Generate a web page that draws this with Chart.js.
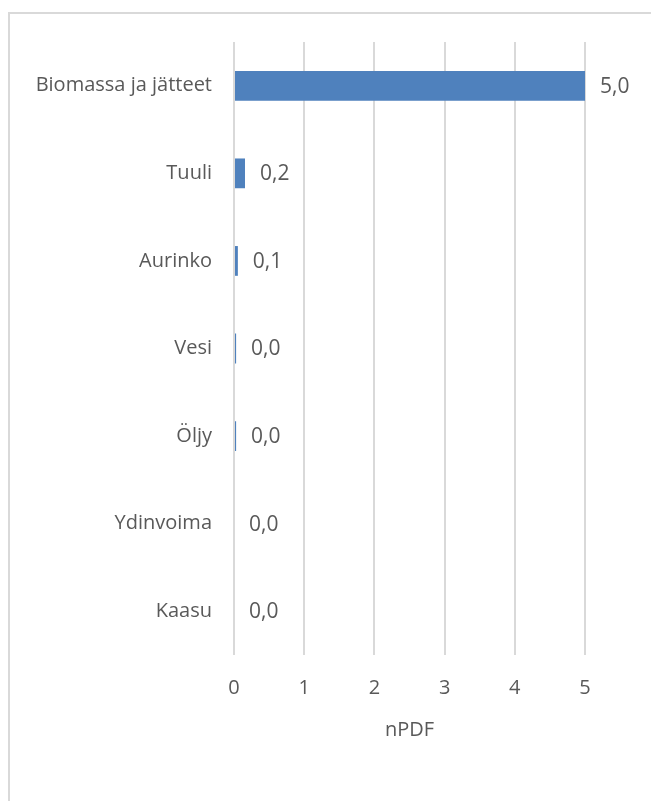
<!DOCTYPE html>
<html>
<head>
<meta charset="utf-8">
<script src="https://cdn.jsdelivr.net/npm/chart.js@4"></script>
<style>
  html, body { margin: 0; padding: 0; background: #fff; }
  #frame {
    position: absolute; left: 8px; top: 12px;
    width: 700px; height: 850px;
    border-left: 2px solid #d9d9d9; border-top: 2px solid #d9d9d9;
  }
  #wrap { position: absolute; left: 0; top: 0; width: 651px; height: 801px; }
</style>
</head>
<body>
<div id="frame"></div>
<div id="wrap"><canvas id="pdfChart"></canvas></div>
<script>
var sources = ["Biomassa ja jätteet", "Tuuli", "Aurinko", "Vesi", "Öljy", "Ydinvoima", "Kaasu"];
var npdfValues = [5.0, 0.157, 0.055, 0.03, 0.03, 0, 0];
var xTicks = [0, 1, 2, 3, 4, 5];

var textColor = "#595959";
var fontFamily = "'Open Sans', sans-serif";
var fontSize = 20;

// value labels after each bar end, with a decimal comma
var valueLabels = {
  id: "valueLabels",
  afterDatasetsDraw: function(chart) {
    var ctx = chart.ctx;
    var meta = chart.getDatasetMeta(0);
    ctx.save();
    ctx.font = "21px " + fontFamily;
    ctx.fillStyle = textColor;
    ctx.textAlign = "left";
    ctx.textBaseline = "middle";
    meta.data.forEach(function(bar, i) {
      var txt = npdfValues[i].toFixed(1).replace(".", ",");
      ctx.fillText(txt, bar.x + 15, bar.y + 1);
    });
    ctx.restore();
  }
};

new Chart(document.getElementById("pdfChart"), {
  type: "bar",
  data: {
    labels: sources,
    datasets: [{
      data: npdfValues,
      backgroundColor: "#4f81bd",
      borderWidth: 0,
      barPercentage: 0.34,
      categoryPercentage: 1.0
    }]
  },
  options: {
    indexAxis: "y",
    responsive: true,
    maintainAspectRatio: false,
    animation: false,
    layout: { padding: { top: 42, right: 66, bottom: 59, left: 0 } },
    plugins: {
      legend: { display: false },
      tooltip: { enabled: false }
    },
    scales: {
      x: {
        min: 0,
        max: 5,
        afterBuildTicks: function(axis) {
          axis.ticks = xTicks.map(function(v) { return { value: v }; });
        },
        afterFit: function(axis) { axis.height = 87; },
        grid: { color: "#d9d9d9", lineWidth: 2, drawTicks: false },
        border: { display: false },
        ticks: {
          color: textColor,
          font: { family: fontFamily, size: fontSize },
          padding: 21
        },
        title: {
          display: true,
          text: "nPDF",
          color: textColor,
          font: { family: fontFamily, size: fontSize },
          padding: { top: 4, bottom: 0 }
        }
      },
      y: {
        afterFit: function(axis) { axis.width = 234; },
        grid: { display: false, drawTicks: false },
        border: { display: false },
        ticks: {
          color: textColor,
          font: { family: fontFamily, size: fontSize },
          padding: 22
        }
      }
    }
  },
  plugins: [valueLabels]
});
</script>
</body>
</html>
